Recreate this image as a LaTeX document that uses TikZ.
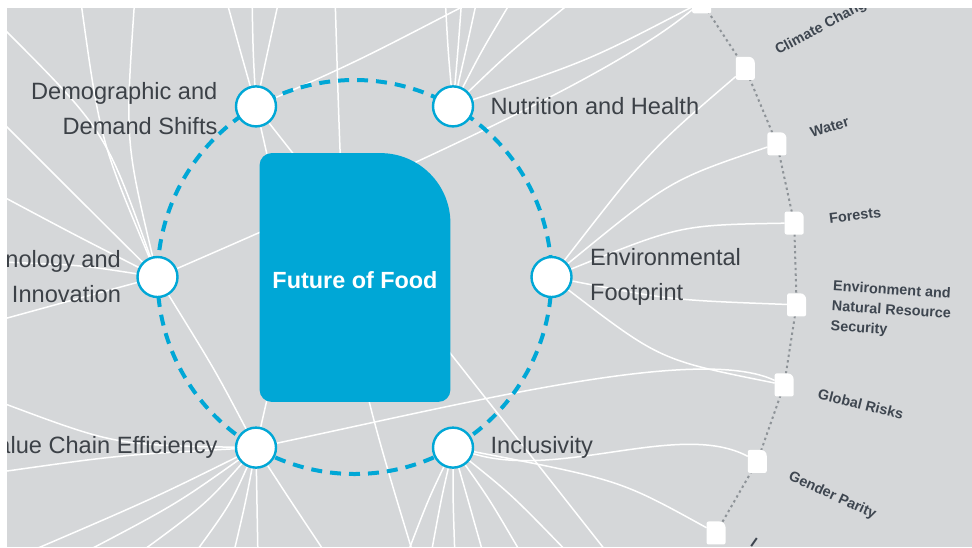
\documentclass[tikz,border=0pt]{standalone}
\usepackage{fontspec}
\setmainfont{Liberation Sans}
\usetikzlibrary{positioning, backgrounds}
\definecolor{foodblue}{HTML}{00A7D6}
\definecolor{mapgray}{HTML}{D5D7D9}
\definecolor{inkgray}{HTML}{3C4147}
\definecolor{topicgray}{HTML}{3E4650}
\definecolor{dotgray}{HTML}{8E9398}
\tikzset{
  link/.style={draw=white, line width=0.75pt},
  dotlink/.style={draw=dotgray, line width=1pt, dash pattern=on 1.2pt off 1.6pt},
  ring/.style={draw=foodblue, line width=2pt, dash pattern=on 5.5pt off 4pt},
  issue/.style={circle, draw=foodblue, line width=1.2pt, fill=white, minimum size=20pt, inner sep=0pt},
  issuelabel/.style={font=\fontsize{11.8}{17.5}\selectfont, text=inkgray, inner sep=0pt},
  foodbox/.style={minimum width=95pt, minimum height=124pt, inner sep=0pt, text height=11pt, text=white, font=\bfseries\fontsize{11.7}{14}\selectfont},
  topic/.style={rectangle, minimum width=9.5pt, minimum height=11.5pt, inner sep=0pt, outer sep=0pt},
  topiclabel/.style={font=\bfseries\fontsize{7.2}{10}\selectfont, text=topicgray, align=left, inner sep=0pt, anchor=west},
}
% tab shape: small corners #2, big top-right corner #3
\newcommand{\tabfill}[4]{%
  \fill[#4] ([yshift=#2]#1.south west) -- ([yshift=-#2]#1.north west)
    arc[start angle=180, end angle=90, radius=#2]
    -- ([xshift=-#3]#1.north east) arc[start angle=90, end angle=0, radius=#3]
    -- ([yshift=#2]#1.south east) arc[start angle=0, end angle=-90, radius=#2]
    -- ([xshift=#2]#1.south west) arc[start angle=270, end angle=180, radius=#2]
    -- cycle;}

\begin{document}
\begin{tikzpicture}[x=0.5pt, y=-0.5pt]
  \useasboundingbox (0,0) rectangle (972,547);
  \clip (7,8) rectangle (972,547);
  \coordinate (ctr) at (354.5,277);

  % Key issues on the ring
  \node[issue] (dem)  at ([shift={(-120:197)}]ctr) {};
  \node[issue] (nut)  at ([shift={(-60:197)}]ctr) {};
  \node[issue] (tech) at ([shift={(180:197)}]ctr) {};
  \node[issue] (env)  at ([shift={(0:197)}]ctr) {};
  \node[issue] (val)  at ([shift={(120:197)}]ctr) {};
  \node[issue] (inc)  at ([shift={(60:197)}]ctr) {};

  \node[issuelabel, align=right, left=8.5pt of dem, yshift=-1pt] (demlbl) {Demographic and\\Demand Shifts};
  \node[issuelabel, right=8pt of nut] (nutlbl) {Nutrition and Health};
  \node[issuelabel, align=right, left=7.5pt of tech] (techlbl) {Technology and\\Innovation};
  \node[issuelabel, align=left, right=8.5pt of env] (envlbl) {Environmental\\Footprint};
  \node[issuelabel, left=8.5pt of val] (vallbl) {Value Chain Efficiency};
  \node[issuelabel, right=8pt of inc] (inclbl) {Inclusivity};

  % Centre
  \node[foodbox] (food) at (355,277.5) {Future of Food};

  % Related topics on the outer arc
  \foreach \a [count=\i from 0] in {-38.4,-28.1,-17.5,-7,3.6,14.1,24.6,35.3} {
    \node[topic] (sq\i) at ([shift={(\a:443)}]ctr) {};
  }
  \foreach \i/\a/\txt in {1/-28.1/Climate Change, 2/-17.5/Water, 3/-7/Forests,
      4/3.6/{Environment and\\Natural Resource\\Security}, 5/14.1/Global Risks, 6/24.6/Gender Parity} {
    \node[topiclabel, rotate={-1*(\a)}] (tl\i) at ([shift={(\a:478)}]ctr) {\txt};
  }
  \node[topiclabel, rotate=-35] (tl7) at (752,541) {I};

  % Links (behind everything)
  \begin{pgfonlayer}{background}
    \fill[mapgray] (7,8) rectangle (972,547);

    \foreach \x/\y/\cx/\cy [count=\i] in {0/25/105/130, 80/-5/100/140, 135/-5/125/140,
        0/120/85/205, 0/195/75/235, 0/262/80/265, 0/320/80/298} {
      \coordinate (te\i) at (\x,\y);
      \draw[link] (tech) .. controls (\cx,\cy) .. (te\i);
    }
    \draw[link] (tech) .. controls (215,370) .. (val);
    \draw[link] (tech) .. controls (450,150) and (620,70) .. (sq0);

    \foreach \x/\y/\cx/\cy [count=\i] in {0/402/115/445, 0/472/120/455, 10/560/150/500,
        70/560/175/505, 130/560/205/505, 190/560/230/505, 232/560/245/505,
        258/560/257/505, 330/560/290/500} {
      \coordinate (ve\i) at (\x,\y);
      \draw[link] (val) .. controls (\cx,\cy) .. (ve\i);
    }
    \draw[link] (val) .. controls (295,277) .. (dem);
    \draw[link] (val) .. controls (480,400) and (700,345) .. (sq5);

    \foreach \x/\y/\cx/\cy [count=\i] in {225/-5/240/50, 252/-5/253/50, 280/-5/268/50,
        485/-5/360/60} {
      \coordinate (de\i) at (\x,\y);
      \draw[link] (dem) .. controls (\cx,\cy) .. (de\i);
    }
    \coordinate (db) at (613,560);
    \draw[link] (dem) -- (db);

    \foreach \x/\y/\cx/\cy [count=\i] in {445/-5/448/50, 462/-5/458/50, 478/-5/466/50,
        515/-5/482/50, 580/-5/512/50} {
      \coordinate (ne\i) at (\x,\y);
      \draw[link] (nut) .. controls (\cx,\cy) .. (ne\i);
    }
    \draw[link] (nut) .. controls (590,60) .. (sq0);

    \foreach \i/\cx/\cy in {1/650/150, 2/670/180, 3/680/225, 4/670/300, 5/660/360} {
      \draw[link] (env) .. controls (\cx,\cy) .. (sq\i);
    }

    \foreach \x/\y/\cx/\cy [count=\i] in {405/560/428/500, 430/560/441/500, 455/560/453/500,
        485/560/468/500, 525/560/490/500, 575/560/512/495} {
      \coordinate (ie\i) at (\x,\y);
      \draw[link] (inc) .. controls (\cx,\cy) .. (ie\i);
    }
    \draw[link] (inc) .. controls (560,480) and (680,420) .. (sq6);
    \draw[link] (inc) .. controls (620,480) .. (sq7);

    \coordinate (vt) at (335,-5);
    \coordinate (vb) at (415,560);
    \draw[link] (vt) .. controls (345,330) .. (vb);

    % centre box and dashed ring
    \tabfill{food}{6pt}{35pt}{foodblue}
    \draw[ring] (ctr) circle[radius=197];
  \end{pgfonlayer}

  % Dotted arc through the topics
  \foreach \i [evaluate=\i as \j using int(\i+1)] in {0,...,6} {
    \draw[dotlink] (sq\i.center) -- (sq\j.center);
  }
  \foreach \i in {0,...,7} {
    \tabfill{sq\i}{1pt}{3pt}{white}
  }
\end{tikzpicture}
\end{document}
